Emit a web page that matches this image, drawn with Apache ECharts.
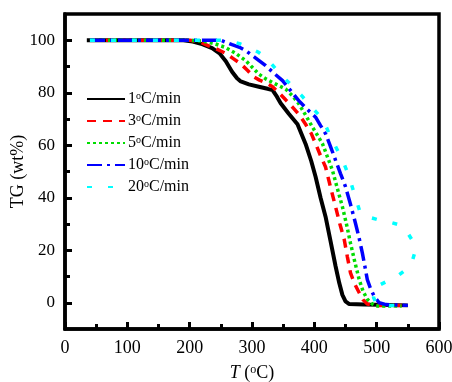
<!DOCTYPE html>
<html><head><meta charset="utf-8">
<script src="https://cdn.jsdelivr.net/npm/echarts@6/dist/echarts.min.js"></script>
<style>html,body{margin:0;padding:0;background:#fff}#c{width:452px;height:382px}</style>
</head><body><div id="c"></div>
<script>
var seriesNames = ['1°C/min','3°C/min','5°C/min','10°C/min','20°C/min'];
var seriesColors = ['#000000','#ff0000','#00dd00','#0000ff','#00ffff'];
var xTickLabels = [0,100,200,300,400,500,600];
var yTickLabels = [0,20,40,60,80,100];
var xMinorTicks = [50,150,250,350,450,550];
var yMinorTicks = [10,30,50,70,90];

var tg1 = [[35,100],[100,100],[150,100],[190,100],[205,99.5],[220,98.5],[236,97],[248,95],[258,92],[268,88],[276,85.5],[282,84.3],[295,83.2],[311,82.3],[325,81.5],[333,81],[340,78.5],[346,76],[359,72],[373,68],[386,60.5],[395,54],[402,48],[410,40],[418,32.8],[426,23.5],[434,14],[440,7.5],[445,3],[450,0.5],[456,-0.5],[480,-0.7],[550,-1]];
var tg3 = [[40,100],[150,100],[200,100],[215,99.5],[226,98.3],[240,97],[258,95],[270,93],[282,91],[293,88.5],[303,86],[312,84.8],[322,83.9],[333,82.3],[343,80],[354,77.3],[365,74.5],[376,71.5],[386,68],[395,64.5],[402,60.6],[410,56],[418,51.7],[426,44],[434,36.6],[441,30],[448,24],[453,17.5],[458,11.4],[465,7],[472,3.8],[478,1.2],[485,-0.5],[500,-1],[550,-1]];
var tg5 = [[40,100],[200,100],[220,99.7],[240,98.7],[258,97.2],[274,95],[290,92.2],[300,89.8],[311,87.1],[322,85.3],[333,83.9],[344,82.6],[354,81.4],[365,78.8],[375,75.8],[386,71.5],[397,66.9],[405,63.8],[413,60.6],[421,55.6],[429,50.5],[437,43.5],[445,36.6],[452,29.5],[458,22.7],[465,15.5],[472,8.8],[478,4.5],[485,1.3],[492,-0.3],[498,-1.2],[540,-1.2]];
var tg10 = [[40,100],[250,100],[268,98.3],[280,97.3],[290,96],[306,93.2],[322,90.3],[335,87.5],[349,84.6],[362,80.8],[375,77],[388,73.8],[402,70.7],[410,67.5],[418,64.4],[426,59.5],[434,54.3],[442,49.2],[450,44.2],[458,37.5],[466,30.3],[472,24.5],[477,19],[481,14],[485,8.8],[490,5.5],[496,2.5],[504,0],[515,-0.7],[550,-1]];
var tg20 = [[40,100],[260,100],[280,98.7],[295,97.2],[310,95.5],[322,93.4],[333,90.5],[343,87.7],[355,84.8],[367,82],[380,78.8],[391,75.8],[402,72.9],[413,70],[420,66.5],[426,63.1],[433,60],[440,56.8],[447,53.3],[453,49.8],[459,45.5],[464,41.7],[469,37.8],[474,34],[489,32.5],[504,31.5],[520,30.8],[536,29.7],[550,26.5],[560,22.7],[561,19],[557,15.8],[546,12.5],[533,10.1],[515,8],[496,5.7],[495,2],[500,-0.5],[520,-1],[550,-1]];
var allData = [tg1,tg3,tg5,tg10,tg20];
var dashes = ['solid',[9,7],[3,3],[15,5,3,5],[5,16]];
var widths = [4,3.5,3.5,3.5,3.5];

var FONT = '"Liberation Serif","Times New Roman",serif';
var chart = echarts.init(document.getElementById('c'));
var series = allData.map(function(d,i){
  return {name: seriesNames[i], type:'line', data:d, showSymbol:false, symbol:'none',
    xAxisIndex:0, yAxisIndex:0, animation:false,
    lineStyle:{color:seriesColors[i], width:widths[i], type:dashes[i], cap:'butt'},
    itemStyle:{color:seriesColors[i]}};
});
chart.setOption({
  animation:false,
  grid:{left:65, right:13, top:14, bottom:53, outerBoundsMode:'none', containLabel:false,
    show:true, borderColor:'#000', borderWidth:3.5, backgroundColor:'transparent'},
  legend:{orient:'vertical', left:81, top:86, itemWidth:38, itemHeight:14, itemGap:6,
    data: seriesNames,
    itemStyle:{opacity:0},
    formatter:function(n){return n.replace('°','{sup|o}');},
    textStyle:{fontFamily:FONT, fontSize:16, color:'#000', padding:[0,0,0,-2],
      rich:{sup:{fontFamily:FONT, fontSize:10, verticalAlign:'top', color:'#000'}}}},
  xAxis:[{type:'value', min:0, max:600, position:'bottom',
      name:'{i|T} ({sup|o}C)', nameLocation:'middle', nameGap:35, nameMoveOverlap:false,
      nameTextStyle:{fontFamily:FONT, fontSize:18, color:'#000',
        rich:{i:{fontFamily:FONT, fontSize:18, fontStyle:'italic', color:'#000'}, sup:{fontFamily:FONT, fontSize:12, verticalAlign:'top', color:'#000'}}},
      axisLine:{show:true, onZero:false, lineStyle:{color:'#000', width:3.5}},
      axisTick:{show:true, inside:true, length:7, customValues:xTickLabels, lineStyle:{color:'#000', width:3}},
      axisLabel:{show:true, customValues:xTickLabels, fontFamily:FONT, fontSize:18, color:'#000', margin:10},
      splitLine:{show:false}},
    {type:'value', min:0, max:600, position:'bottom',
      axisLine:{show:false, onZero:false}, axisLabel:{show:false}, splitLine:{show:false},
      axisTick:{show:true, inside:true, length:5, customValues:xMinorTicks, lineStyle:{color:'#000', width:3}}}],
  yAxis:[{type:'value', min:-10, max:110, position:'left',
      name:'TG (wt%)', nameLocation:'middle', nameGap:38, nameMoveOverlap:false,
      nameTextStyle:{fontFamily:FONT, fontSize:18, color:'#000'},
      axisLine:{show:true, onZero:false, lineStyle:{color:'#000', width:3.5}},
      axisTick:{show:true, inside:true, length:7, customValues:yTickLabels, lineStyle:{color:'#000', width:3}},
      axisLabel:{show:true, customValues:yTickLabels, fontFamily:FONT, fontSize:17, color:'#000', margin:10},
      splitLine:{show:false}},
    {type:'value', min:-10, max:110, position:'left',
      axisLine:{show:false, onZero:false}, axisLabel:{show:false}, splitLine:{show:false},
      axisTick:{show:true, inside:true, length:5, customValues:yMinorTicks, lineStyle:{color:'#000', width:3}}}],
  series: series
});
</script></body></html>
